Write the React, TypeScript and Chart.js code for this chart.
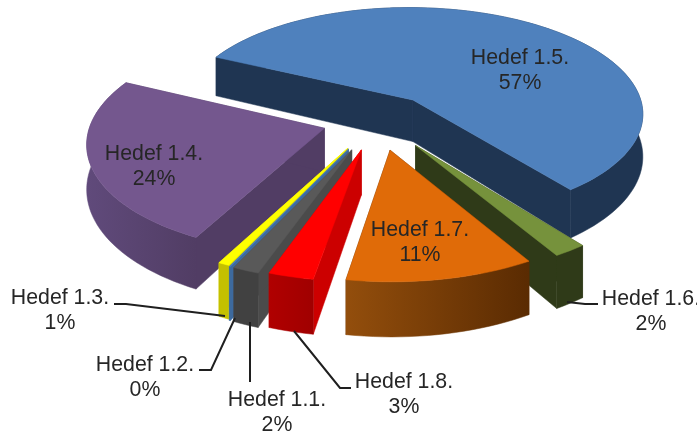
import React, { useEffect, useRef } from "react";
import { Chart, registerables } from "chart.js";

Chart.register(...registerables);

const categories = ["Hedef 1.1.", "Hedef 1.2.", "Hedef 1.3.", "Hedef 1.4.", "Hedef 1.5.", "Hedef 1.6.", "Hedef 1.7.", "Hedef 1.8."];
const shares = [1.58, 0.06, 0.66, 24.49, 57.27, 2.0, 11.18, 2.69];
const explode = [159, 159, 156, 132, 134, 153, 151, 152];
const topColors = ["#595959", "#4F81BD", "#FFFF00", "#74578E", "#4F81BD", "#76923C", "#E06B08", "#FF0000"];
const wallColors = ["#4B4B4B", "#3D6A9E", "#D8D800", "#513D64", "#1F3552", "#2F3A18", "#5C2C02", "#CC0000"];
const rimStart = ["#414141", "#3D6A9E", "#C4C000", "#604A7B", "#1F3552", "#2F3A18", "#934E0C", "#B00000"];
const rimEnd = ["#414141", "#3D6A9E", "#C4C000", "#513D64", "#1F3552", "#2F3A18", "#5A2B02", "#A00000"];

// label text anchors: [centre x, first baseline]
const labelAnchors = [[277, 406], [145, 371], [60, 304], [154, 160], [520, 64], [651, 305], [420, 236], [404, 388]];
// leader lines
const leaders = [
  [[250, 382], [250, 322]],
  [[199, 370], [211, 370], [235, 318]],
  [[114, 304], [126, 304], [225, 316]],
  [],
  [],
  [[598, 304], [585, 304], [567, 302]],
  [],
  [[351, 388], [340, 388], [294, 331]],
];

const camera = { cx: 378, cy: 120, f: 233, g: 108, p: 0.12, depth: 43 };

const project = (u: number, v: number, z: number) => {
  const s = 1 / (1 - camera.p * v);
  return [camera.cx + camera.f * u * s, camera.cy + camera.g * v * s + camera.depth * z * Math.pow(s, 1.5)];
};

const poly = (ctx: CanvasRenderingContext2D, pts: number[][], fill: string | CanvasGradient) => {
  ctx.beginPath();
  pts.forEach((p, i) => (i ? ctx.lineTo(p[0], p[1]) : ctx.moveTo(p[0], p[1])));
  ctx.closePath();
  ctx.fillStyle = fill;
  ctx.fill();
  ctx.strokeStyle = fill;
  ctx.lineWidth = 0.5;
  ctx.stroke();
};

const pie3d = {
  id: "pie3d",
  beforeDatasetsDraw(chart: any) {
    const ctx: CanvasRenderingContext2D = chart.ctx;
    const arcs: any[] = chart.getDatasetMeta(0).data;
    const order = arcs
      .map((a, i) => ({ i, key: Math.sin((a.startAngle + a.endAngle) / 2) }))
      .sort((a, b) => a.key - b.key);
    ctx.save();
    for (const { i } of order) {
      const a = arcs[i];
      const mid = (a.startAngle + a.endAngle) / 2;
      const e = a.options.offset / 4 / a.outerRadius;
      const ou = Math.cos(mid) * e;
      const ov = Math.sin(mid) * e;
      const n = Math.max(4, Math.ceil(((a.endAngle - a.startAngle) * 180) / Math.PI / 2));
      const rimPlane: number[][] = [];
      for (let k = 0; k <= n; k++) {
        const t = a.startAngle + ((a.endAngle - a.startAngle) * k) / n;
        rimPlane.push([ou + Math.cos(t), ov + Math.sin(t)]);
      }
      const at = (p: number[], z: number) => project(p[0], p[1], z);
      const first = rimPlane[0];
      const last = rimPlane[n];
      const center = [ou, ov];
      poly(ctx, [at(center, 0), at(first, 0), at(first, 1), at(center, 1)], wallColors[i]);
      poly(ctx, [at(center, 0), at(last, 0), at(last, 1), at(center, 1)], wallColors[i]);
      const rimTop = rimPlane.map((p) => at(p, 0));
      const rimBottom = rimPlane.map((p) => at(p, 1)).reverse();
      const xs = rimTop.map((p) => p[0]);
      const g = ctx.createLinearGradient(Math.min(...xs), 0, Math.max(...xs), 0);
      g.addColorStop(0, rimStart[i]);
      g.addColorStop(1, rimEnd[i]);
      poly(ctx, [...rimTop, ...rimBottom], g);
      poly(ctx, [at(center, 0), ...rimTop], topColors[i]);
    }
    ctx.restore();
    return false;
  },
  afterDraw(chart: any) {
    const ctx: CanvasRenderingContext2D = chart.ctx;
    ctx.save();
    ctx.strokeStyle = "#1F1F1F";
    ctx.lineWidth = 2;
    for (const line of leaders) {
      if (!line.length) continue;
      ctx.beginPath();
      line.forEach((p, i) => (i ? ctx.lineTo(p[0], p[1]) : ctx.moveTo(p[0], p[1])));
      ctx.stroke();
    }
    ctx.font = '21.3px "Liberation Sans", Arial, sans-serif';
    ctx.fillStyle = "#262626";
    ctx.textAlign = "center";
    ctx.textBaseline = "alphabetic";
    categories.forEach((c, i) => {
      const [x, y] = labelAnchors[i];
      ctx.fillText(c, x, y);
      ctx.fillText(`${Math.round(shares[i])}%`, x, y + 25);
    });
    ctx.restore();
  },
};

export default function App() {
  const ref = useRef<HTMLCanvasElement>(null);
  useEffect(() => {
    document.body.style.margin = "0";
    document.body.style.background = "#fff";
    const chart = new Chart(ref.current!, {
      type: "pie",
      data: {
        labels: categories,
        datasets: [{ data: shares, backgroundColor: topColors, borderWidth: 0, offset: explode }],
      },
      options: {
        responsive: false,
        animation: false,
        rotation: 199.3,
        layout: { padding: 0 },
        plugins: { legend: { display: false }, tooltip: { enabled: false } },
      },
      plugins: [pie3d],
    } as any);
    return () => chart.destroy();
  }, []);
  return <canvas ref={ref} width={697} height={434} style={{ display: "block" }} />;
}
